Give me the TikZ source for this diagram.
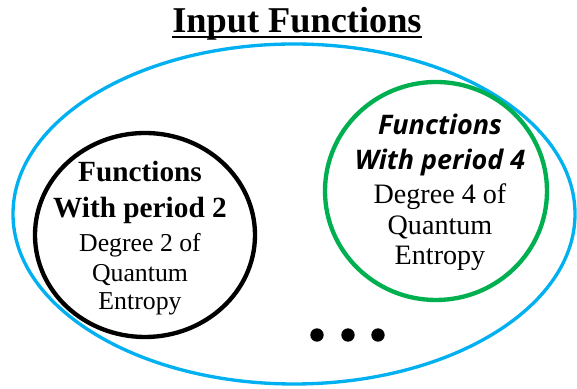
\documentclass[tikz,border=0pt]{standalone}
\usepackage{fontspec}
\setmainfont{Liberation Serif}
\newfontfamily\periodfont{Open Sans}
\definecolor{setblue}{HTML}{00B0F0}
\definecolor{setgreen}{HTML}{00B050}

\begin{document}
\begin{tikzpicture}[
    ring/.style={line width=0.13cm},
    label/.style={anchor=base, inner sep=0pt},
    blackhead/.style={label, font=\fontsize{25}{25}\selectfont\bfseries},
    blacktext/.style={label, font=\fontsize{22}{22}\selectfont},
    greenhead/.style={label, font=\periodfont\fontsize{23}{23}\selectfont\bfseries\itshape},
    greentext/.style={label, font=\fontsize{24}{24}\selectfont},
    dot/.style={fill=black}
  ]
  \useasboundingbox (0,0) rectangle (17.31,11.67);

  % Drawing title
  \node [label, font=\fontsize{31}{31}\selectfont\bfseries] (title) at (8.91,10.68) {Input Functions};
  \draw [line width=0.05cm] ([yshift=-0.12cm]title.base west) -- ([yshift=-0.12cm]title.base east);

  % Drawing ellipse of all input functions
  \draw [setblue, line width=0.1cm] (8.82,5.25) ellipse (8.43 and 5.10);

  % Drawing circle period 2
  \draw [ring, black] (4.35,4.62) ellipse (3.30 and 3.06);
  \node [blackhead] (ptwo1) at (4.20,6.21) {Functions};
  \node [blackhead] (ptwo2) at (4.20,5.13) {With period 2};
  \node [blacktext] (ptwo3) at (4.20,4.11) {Degree 2 of};
  \node [blacktext] (ptwo4) at (4.20,3.21) {Quantum};
  \node [blacktext] (ptwo5) at (4.20,2.37) {Entropy};

  % Drawing circle period 4
  \draw [ring, setgreen] (13.08,5.94) ellipse (3.33 and 3.27);
  \node [greenhead] (pfour1) at (13.20,7.62) {Functions};
  \node [greenhead] (pfour2) at (13.20,6.57) {With period 4};
  \node [greentext] (pfour3) at (13.20,5.55) {Degree 4 of};
  \node [greentext] (pfour4) at (13.20,4.62) {Quantum};
  \node [greentext] (pfour5) at (13.20,3.72) {Entropy};

  % Marking the dots
  \foreach \x in {9.51,10.44,11.34}
    \fill [dot] (\x,1.62) circle (0.2);
\end{tikzpicture}
\end{document}
